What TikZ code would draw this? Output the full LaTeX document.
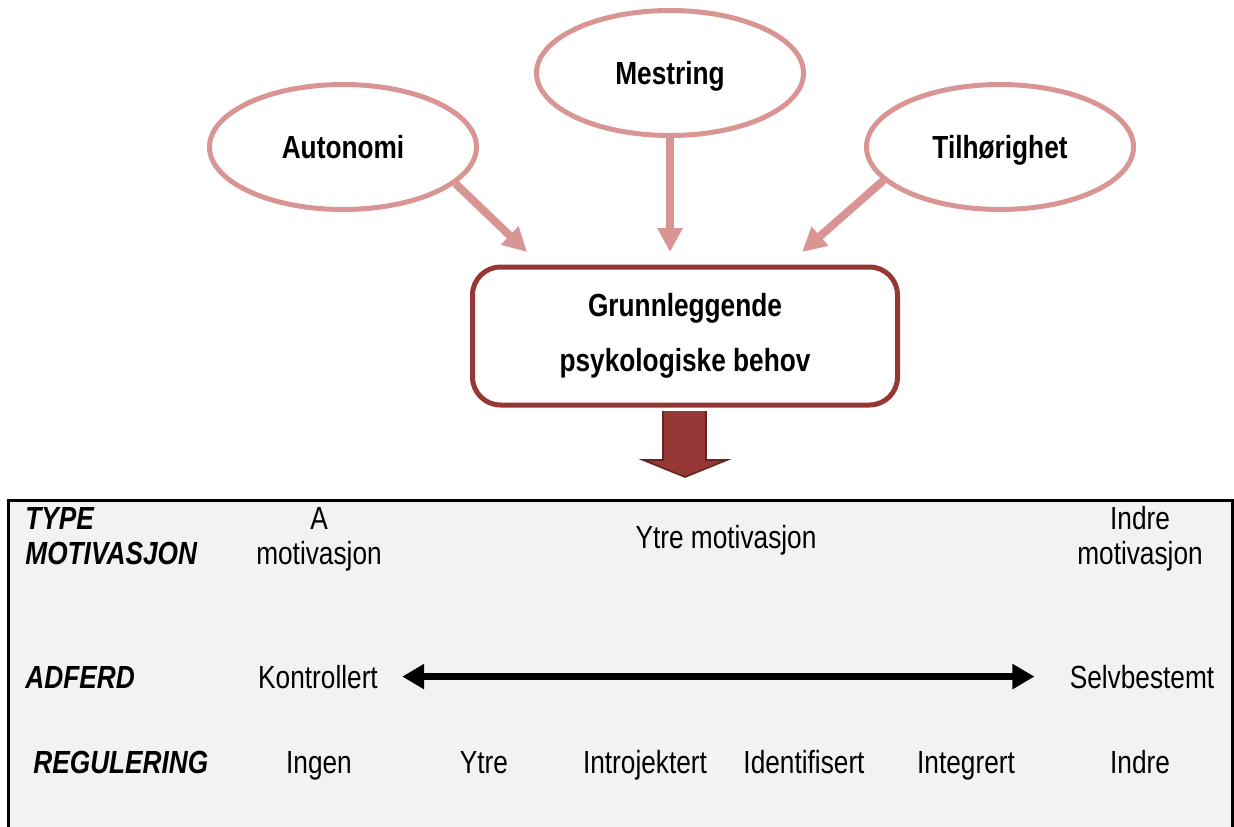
\documentclass[tikz,border=0pt]{standalone}
\usepackage{fontspec}
\setmainfont{Liberation Sans}[FakeStretch=0.82]
\usetikzlibrary{shapes.geometric,arrows.meta}
\definecolor{rosa}{HTML}{D99594}
\definecolor{vinrod}{HTML}{953735}
\definecolor{morkrod}{HTML}{632523}
\definecolor{lysgraa}{HTML}{F2F2F2}
\tikzset{
	behov/.style={ellipse,draw=rosa,line width=2.5pt,fill=white,minimum width=133.5pt,minimum height=62.5pt,inner sep=0pt,text depth=0pt,font=\bfseries\fontsize{16}{19}\selectfont},
	pil/.style={draw=rosa,line width=4pt,-{Triangle[width=12pt,length=12pt]}},
	tekst/.style={inner sep=0pt,anchor=base,align=center,font=\fontsize{16}{17.5}\selectfont},
	rad/.style={inner sep=0pt,anchor=base west,align=left,font=\bfseries\itshape\fontsize{16}{17.5}\selectfont}
}

\begin{document}
\begin{tikzpicture}[x=0.5pt,y=-0.5pt]
\useasboundingbox (0,0) rectangle (1234,826);
\fill[lysgraa] (8.5,500) rectangle (1232,830);
\draw[line width=1.5pt] (8.5,830) -- (8.5,500) -- (1232,500) -- (1232,830);

\node[behov] (auto) at (343,147) {Autonomi};
\node[behov] (mest) at (670,73) {Mestring};
\node[behov] (tilh) at (1000,147) {Tilhørighet};
\node[draw=vinrod,line width=2.5pt,rounded corners=14pt,fill=white,minimum width=212.5pt,minimum height=69pt,align=center,font=\bfseries\fontsize{16}{27.5}\selectfont] (behov) at (685,336) {Grunnleggende\\psykologiske behov};

\coordinate (tippA) at (527,252);
\coordinate (tippM) at (670,252);
\coordinate (tippT) at (802,252);
\draw[pil] (auto.-18) -- (tippA);
\draw[pil] (mest.south) -- (tippM);
\draw[pil] (tilh.196) -- (tippT);

\draw[fill=vinrod,draw=morkrod,line width=0.8pt] (663,411) -- (663,460) -- (643,460) -- (685,477) -- (727,460) -- (706,460) -- (706,411);

\node[rad] (type) at (25,564) {TYPE\\MOTIVASJON};
\node[rad] (adferd) at (25,688) {ADFERD};
\node[rad] (reg) at (33,773) {REGULERING};

\node[tekst] (amot) at (319,564) {A\\motivasjon};
\node[tekst] (ytremot) at (726,548) {Ytre motivasjon};
\node[tekst] (indremot) at (1140,564) {Indre\\motivasjon};

\node[tekst] (kontr) at (318,688) {Kontrollert};
\node[tekst] (selv) at (1142,688) {Selvbestemt};
\draw[line width=3.5pt,{Triangle[width=12pt,length=11pt]}-{Triangle[width=12pt,length=11pt]}] ([xshift=12pt]kontr.east) -- ([xshift=-17.5pt]selv.west);

\foreach \x/\t/\n in {319/Ingen/ingen,484/Ytre/ytre,645/Introjektert/intro,804/Identifisert/ident,966/Integrert/integ,1140/Indre/indre}
	\node[tekst] (\n) at (\x,773) {\t};
\end{tikzpicture}
\end{document}
